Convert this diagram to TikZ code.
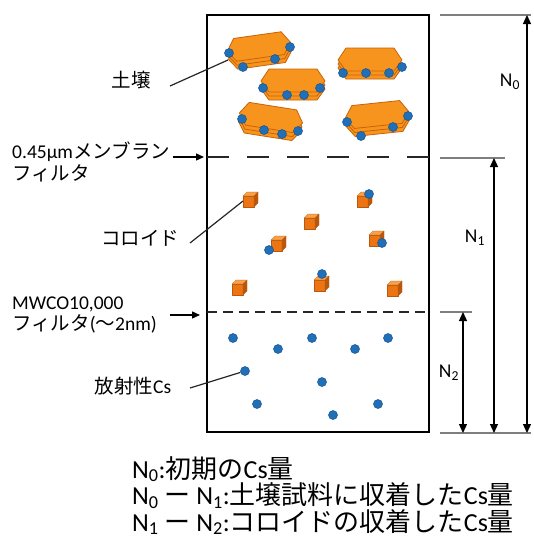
\documentclass[tikz,border=0pt]{standalone}
\usepackage{fontspec}
\setmainfont{Carlito}
\newfontfamily\jp{Noto Sans CJK JP}
\usetikzlibrary{arrows.meta}

\definecolor{soil}{HTML}{F7941D}
\definecolor{soilEdge}{HTML}{C8620A}
\definecolor{cs}{HTML}{1F70B8}
\definecolor{csEdge}{HTML}{17528C}
\definecolor{cubeFront}{HTML}{EC7412}
\definecolor{cubeTop}{HTML}{F9A04A}
\definecolor{cubeSide}{HTML}{B9580C}
\definecolor{tickgray}{HTML}{7F7F7F}

% lines inside multi-line labels keep a fixed baseline distance
\lineskiplimit=-50pt
\lineskip=0pt

\tikzset{
  frame/.style={draw=black, line width=1.6pt},
  coarsefilter/.style={draw=black!85, line width=1.8pt, dash pattern=on 22pt off 18pt},
  finefilter/.style={draw=black!85, line width=1.8pt, dash pattern=on 10pt off 6pt},
  pointer/.style={draw=black!85, line width=1.2pt},
  filterarrow/.style={draw=black, line width=1.3pt, -{Triangle[length=8pt,width=7pt]}},
  dimline/.style={draw=black, line width=1.3pt,
    {Triangle[length=9pt,width=8pt]}-{Triangle[length=9pt,width=8pt]}},
  dimtick/.style={draw=tickgray, line width=1.2pt},
  lbl/.style={font=\fontsize{19.5}{21}\selectfont, inner sep=0pt},
  twoline/.style={inner sep=0pt, align=left},
  legend/.style={font=\fontsize{26}{26.5}\selectfont, inner sep=0pt, align=left},
  csdot/.style={circle, fill=cs, draw=csEdge, line width=0.5pt, inner sep=0pt, minimum size=9pt},
  hexlayer/.style={fill=soil, draw=soilEdge, line width=0.8pt, line join=round},
  cubeface/.style={line width=0.3pt, draw=cubeSide, line join=round},
}

% soil particle: three stacked flat hexagons, centre (#1,#2), tilt #3
\newcommand\soilparticle[3]{%
  \begin{scope}[shift={(#1,#2)}, rotate=#3]
    \foreach \d in {8,4,0} {
      \path[hexlayer] (-32,\d) -- (-24,\d-12) -- (24,\d-12) -- (32,\d)
        -- (24,\d+11) -- (-24,\d+11) -- cycle;
    }
  \end{scope}}

% colloid: small shaded cube, centre (#1,#2)
\newcommand\colloid[2]{%
  \begin{scope}[shift={(#1,#2)}]
    \path[cubeface, fill=cubeFront] (-6,-3) rectangle (5,8);
    \path[cubeface, fill=cubeTop] (-6,-3) -- (-2,-7) -- (9,-7) -- (5,-3) -- cycle;
    \path[cubeface, fill=cubeSide] (5,-3) -- (9,-7) -- (9,4) -- (5,8) -- cycle;
  \end{scope}}

\begin{document}
\begin{tikzpicture}[x=1pt, y=-1pt]
\useasboundingbox[fill=white] (0,0) rectangle (534,558);

% vessel and filter planes
\draw[frame] (207,15) rectangle (429,432);
\coordinate (f1L) at (207,157);
\coordinate (f1R) at (429,157);
\coordinate (f2L) at (207,312);
\coordinate (f2R) at (429,312);
\draw[coarsefilter] (f1L) -- (f1R);
\draw[finefilter] (f2L) -- (f2R);

% soil particles
\soilparticle{259}{47}{8}
\soilparticle{370}{60}{0}
\soilparticle{293}{81}{0}
\soilparticle{271}{118}{-9}
\soilparticle{377}{115}{6}

% colloids
\colloid{249}{199}
\colloid{363}{199}
\colloid{310}{221}
\colloid{277}{243}
\colloid{375}{238}
\colloid{238}{287}
\colloid{320}{283}
\colloid{393}{288}

% caesium sorbed on soil particles
\foreach \x/\y [count=\i] in {229/53, 290/47, 275/59, 243/67,
    343/73, 366/73, 389/73, 402/67,
    263/88, 287/95, 304/95, 320/88,
    242/119, 264/130, 282/134, 298/131,
    347/122, 361/136, 393/127, 408/116}
  \node[csdot] (s\i) at (\x,\y) {};

% caesium sorbed on colloids
\foreach \x/\y [count=\i] in {369/194, 269/250, 382/243, 322/274}
  \node[csdot] (c\i) at (\x,\y) {};

% dissolved caesium
\foreach \x/\y [count=\i] in {233/338, 278/349, 312/338, 355/349, 388/338,
    245/371, 322/382, 257/404, 378/404, 333/415}
  \node[csdot] (f\i) at (\x,\y) {};

% left labels
\node[lbl] (soilLbl) at (131,80) {\jp 土壌};
\coordinate (soilFrom) at (170,86);
\coordinate (soilTo) at (228,60);
\draw[pointer] (soilFrom) -- (soilTo);

\node[twoline, font=\fontsize{19.5}{22}\selectfont, anchor=base west] (memb)
  at (12,180) {0.45µm{\jp メンブラン}\\{\jp フィルタ}};
\coordinate (membFrom) at (173,157);
\coordinate (membTo) at (204,157);
\draw[filterarrow] (membFrom) -- (membTo);

\node[lbl] (collLbl) at (140,238) {\jp コロイド};
\coordinate (collFrom) at (190,243);
\coordinate (collTo) at (243,201);
\draw[pointer] (collFrom) -- (collTo);

\node[twoline, font=\fontsize{19.5}{21}\selectfont, anchor=base west] (mwco)
  at (12,330) {MWCO10,000\\{\jp フィルタ}({\jp 〜}2nm)};
\coordinate (mwcoFrom) at (170,315);
\coordinate (mwcoTo) at (200,315);
\draw[filterarrow] (mwcoFrom) -- (mwcoTo);

\node[lbl] (radLbl) at (133,386) {{\jp 放射性}Cs};
\coordinate (radFrom) at (190,388);
\draw[pointer] (radFrom) -- (f6);

% dimension lines
\coordinate (t0a) at (440,15);  \coordinate (t0b) at (531,15);
\coordinate (t1a) at (440,158); \coordinate (t1b) at (505,158);
\coordinate (t2a) at (440,312); \coordinate (t2b) at (472,312);
\coordinate (tba) at (440,433); \coordinate (tbb) at (531,433);
\draw[dimtick] (t0a) -- (t0b);
\draw[dimtick] (t1a) -- (t1b);
\draw[dimtick] (t2a) -- (t2b);
\draw[dimtick] (tba) -- (tbb);

\coordinate (a0t) at (527,15);  \coordinate (a0b) at (527,433);
\coordinate (a1t) at (494,158); \coordinate (a1b) at (494,433);
\coordinate (a2t) at (463,312); \coordinate (a2b) at (463,433);
\draw[dimline] (a0t) -- (a0b);
\draw[dimline] (a1t) -- (a1b);
\draw[dimline] (a2t) -- (a2b);

\node[lbl] (n0) at (510,82) {N\textsubscript{0}};
\node[lbl] (n1) at (475,238) {N\textsubscript{1}};
\node[lbl] (n2) at (449,373) {N\textsubscript{2}};

% legend
\node[legend, anchor=base west] (leg) at (132,531)
  {N\textsubscript{0}:{\jp 初期の}Cs{\jp 量}\\
   N\textsubscript{0} {\jp ー} N\textsubscript{1}:{\jp 土壌試料に収着した}Cs{\jp 量}\\
   N\textsubscript{1} {\jp ー} N\textsubscript{2}:{\jp コロイドの収着した}Cs{\jp 量}};
\end{tikzpicture}
\end{document}
